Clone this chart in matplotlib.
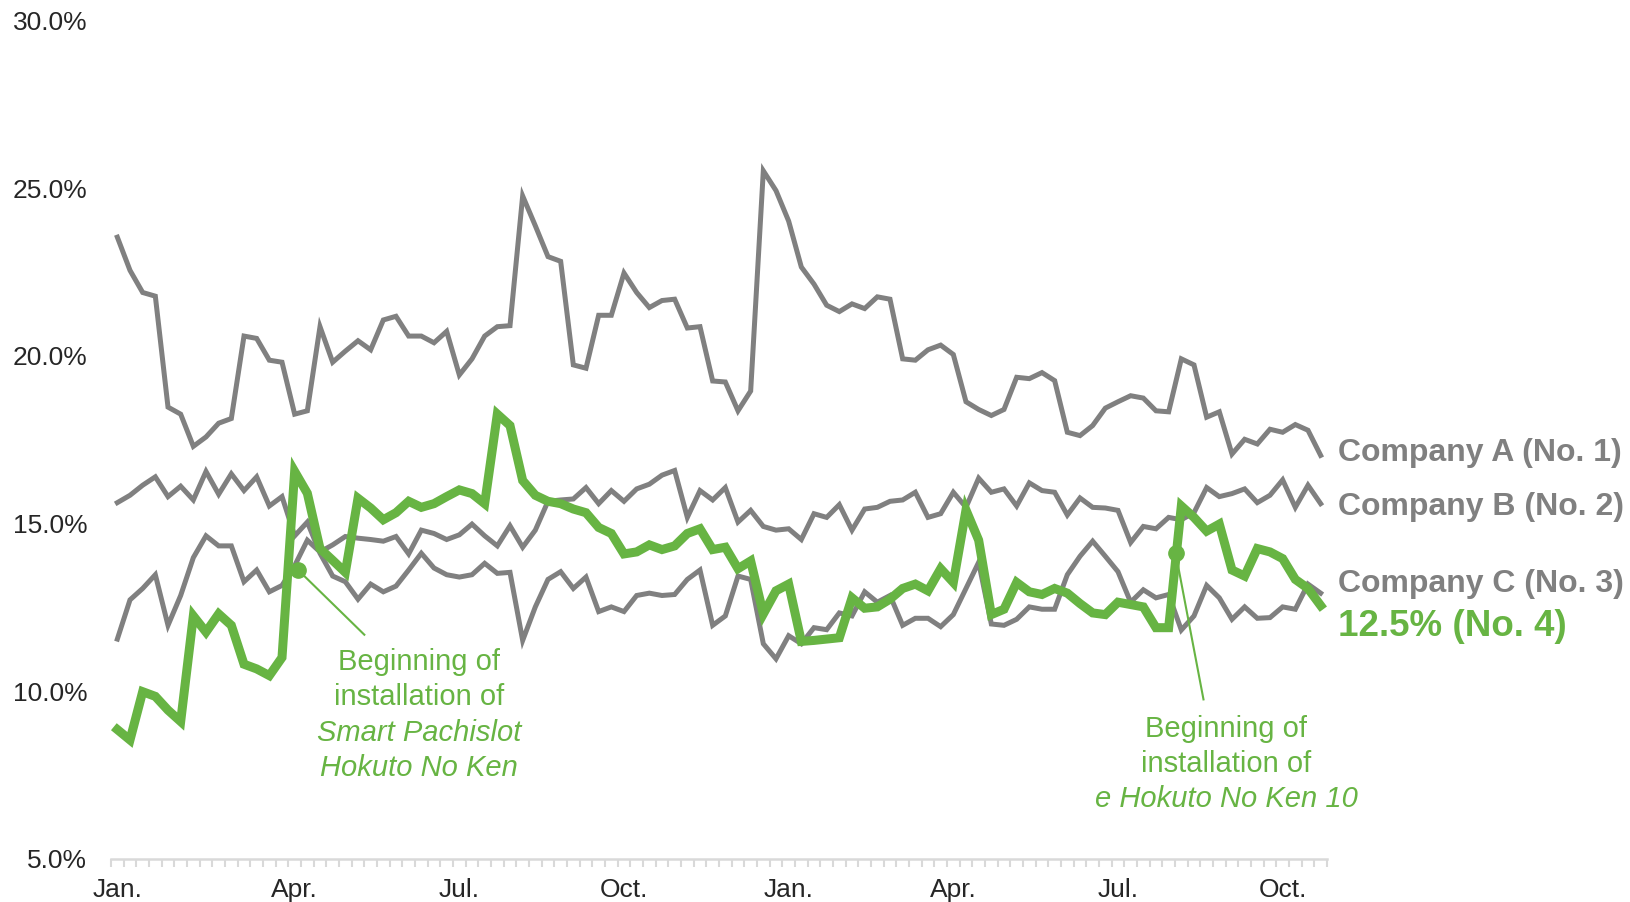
import numpy as np
import matplotlib.pyplot as plt

plt.rcParams['font.family'] = ['Liberation Sans', 'DejaVu Sans']

# weekly market share (%), 96 weeks
company_a = [23.54, 22.55, 21.89, 21.78, 18.47, 18.26, 17.30, 17.58, 17.99, 18.13,
             20.59, 20.52, 19.87, 19.81, 18.26, 18.36, 20.87, 19.81, 20.14, 20.45,
             20.18, 21.07, 21.18, 20.59, 20.59, 20.39, 20.73, 19.43, 19.91, 20.59,
             20.87, 20.90, 24.77, 23.88, 22.96, 22.82, 19.73, 19.63, 21.21, 21.21,
             22.47, 21.89, 21.44, 21.65, 21.69, 20.83, 20.87, 19.25, 19.22, 18.36,
             18.95, 25.52, 24.93, 24.02, 22.65, 22.14, 21.51, 21.32, 21.55, 21.41,
             21.76, 21.69, 19.91, 19.87, 20.18, 20.32, 20.04, 18.63, 18.40, 18.22,
             18.40, 19.36, 19.32, 19.50, 19.26, 17.72, 17.62, 17.92, 18.44, 18.63,
             18.81, 18.74, 18.36, 18.33, 19.91, 19.73, 18.17, 18.33, 17.07, 17.51,
             17.37, 17.81, 17.72, 17.95, 17.78, 17.03]

company_b = [11.55, 12.72, 13.06, 13.47, 11.96, 12.85, 13.98, 14.63, 14.33, 14.33,
             13.26, 13.61, 12.96, 13.15, 13.74, 14.50, 14.15, 14.36, 14.61, 14.56,
             14.52, 14.47, 14.61, 14.09, 14.80, 14.70, 14.52, 14.66, 14.98, 14.63,
             14.33, 14.93, 14.29, 14.80, 15.66, 15.70, 15.73, 16.07, 15.59, 15.98,
             15.66, 16.03, 16.17, 16.44, 16.58, 15.18, 15.98, 15.70, 16.07, 15.04,
             15.39, 14.91, 14.80, 14.84, 14.52, 15.29, 15.18, 15.56, 14.80, 15.43,
             15.48, 15.66, 15.70, 15.93, 15.18, 15.29, 15.93, 15.48, 16.35, 15.93,
             16.03, 15.52, 16.21, 15.98, 15.93, 15.25, 15.76, 15.48, 15.46, 15.39,
             14.43, 14.91, 14.84, 15.18, 15.11, 15.32, 16.07, 15.80, 15.89, 16.03,
             15.62, 15.84, 16.30, 15.48, 16.14, 15.59]

company_c = [15.62, 15.84, 16.14, 16.39, 15.80, 16.11, 15.70, 16.55, 15.87, 16.48,
             15.98, 16.39, 15.52, 15.80, 14.63, 15.04, 14.11, 13.43, 13.26, 12.74,
             13.19, 12.96, 13.13, 13.61, 14.11, 13.67, 13.47, 13.40, 13.47, 13.81,
             13.51, 13.54, 11.51, 12.51, 13.33, 13.56, 13.06, 13.40, 12.37, 12.51,
             12.37, 12.85, 12.92, 12.85, 12.88, 13.33, 13.61, 11.96, 12.24, 13.43,
             13.33, 11.41, 10.96, 11.65, 11.41, 11.89, 11.83, 12.33, 12.24, 12.96,
             12.65, 12.85, 11.96, 12.17, 12.17, 11.92, 12.28, 13.06, 13.84, 12.00,
             11.96, 12.14, 12.51, 12.44, 12.44, 13.47, 14.02, 14.47, 14.02, 13.56,
             12.65, 13.02, 12.78, 12.88, 11.82, 12.24, 13.15, 12.78, 12.14, 12.51,
             12.17, 12.19, 12.51, 12.44, 13.19, 12.92]

own_share = [8.85, 8.54, 9.98, 9.84, 9.43, 9.09, 12.24, 11.76, 12.30, 11.96,
             10.80, 10.66, 10.46, 11.00, 16.55, 15.90, 14.25, 13.90, 13.54, 15.75,
             15.46, 15.11, 15.32, 15.66, 15.48, 15.59, 15.80, 16.00, 15.89, 15.59,
             18.26, 17.92, 16.28, 15.84, 15.66, 15.59, 15.43, 15.32, 14.88, 14.70,
             14.09, 14.15, 14.36, 14.22, 14.33, 14.70, 14.84, 14.22, 14.29, 13.65,
             13.88, 12.30, 12.99, 13.19, 11.48, 11.51, 11.55, 11.59, 12.78, 12.47,
             12.51, 12.74, 13.06, 13.19, 12.99, 13.65, 13.24, 15.40, 14.50, 12.28,
             12.44, 13.24, 12.96, 12.88, 13.06, 12.92, 12.61, 12.33, 12.28, 12.65,
             12.58, 12.51, 11.89, 11.89, 15.52, 15.18, 14.77, 14.98, 13.61, 13.43,
             14.25, 14.15, 13.95, 13.33, 13.06, 12.55]

month_pos = [0, 14, 27, 40, 53, 66, 79, 92]
month_labels = ['Jan.', 'Apr.', 'Jul.', 'Oct.', 'Jan.', 'Apr.', 'Jul.', 'Oct.']

GREY = '#808080'
GREEN = '#67b443'

weeks = np.arange(len(own_share))

fig = plt.figure(figsize=(16.3, 9.02), dpi=100)
ax = fig.add_axes([0.0681, 0.0481, 0.746, 0.929])

for s in (company_a, company_b, company_c):
    ax.plot(weeks, s, color=GREY, lw=3.6, solid_joinstyle='miter')
ax.plot(weeks, own_share, color=GREEN, lw=6.5, solid_joinstyle='miter')

ax.set_xlim(-0.5, len(weeks) - 0.5)
ax.set_ylim(5, 30)
ax.set_yticks(np.arange(5, 31, 5))
ax.set_yticklabels(['%.1f%%' % v for v in np.arange(5, 31, 5)])
ax.set_xticks(month_pos)
ax.set_xticklabels(month_labels)
ax.set_xticks(np.arange(-0.5, len(weeks), 1), minor=True)

for sp in ('left', 'right', 'top'):
    ax.spines[sp].set_visible(False)
ax.spines['bottom'].set_color('#d9d9d9')
ax.spines['bottom'].set_linewidth(1.8)

ax.tick_params(axis='y', length=0, pad=17, labelsize=19, labelcolor='#262626')
ax.tick_params(axis='x', which='major', length=0, pad=14, labelsize=19, labelcolor='#262626')
ax.tick_params(axis='x', which='minor', length=6, width=1.5, color='#d9d9d9')

# annotations
ax.plot([14.3, 19.5], [13.6, 11.68], color=GREEN, lw=1.5)
ax.plot([14.3], [13.6], 'o', color=GREEN, ms=11)
ax.plot([83.55, 85.75], [14.12, 9.75], color=GREEN, lw=1.5)
ax.plot([83.55], [14.12], 'o', color=GREEN, ms=11)

note1 = [('Beginning of', 'normal'), ('installation of', 'normal'),
         ('Smart Pachislot', 'italic'), ('Hokuto No Ken', 'italic')]
for k, (txt, st) in enumerate(note1):
    ax.text(23.8, 10.87 - k * 1.055, txt, color=GREEN, fontsize=21, style=st,
            ha='center', va='center')

note2 = [('Beginning of', 'normal'), ('installation of', 'normal'),
         ('e Hokuto No Ken 10', 'italic')]
for k, (txt, st) in enumerate(note2):
    ax.text(87.55, 8.88 - k * 1.055, txt, color=GREEN, fontsize=21, style=st,
            ha='center', va='center')

# series labels at right
lx = 96.35
ax.text(lx, 17.11, 'Company A (No. 1)', color=GREY, fontsize=23, fontweight='bold',
        va='center', ha='left', clip_on=False)
ax.text(lx, 15.5, 'Company B (No. 2)', color=GREY, fontsize=23, fontweight='bold',
        va='center', ha='left', clip_on=False)
ax.text(lx, 13.2, 'Company C (No. 3)', color=GREY, fontsize=23, fontweight='bold',
        va='center', ha='left', clip_on=False)
ax.text(lx, 11.93, '12.5% (No. 4)', color=GREEN, fontsize=26.5, fontweight='bold',
        va='center', ha='left', clip_on=False)

fig.savefig('out.png', dpi=100)
